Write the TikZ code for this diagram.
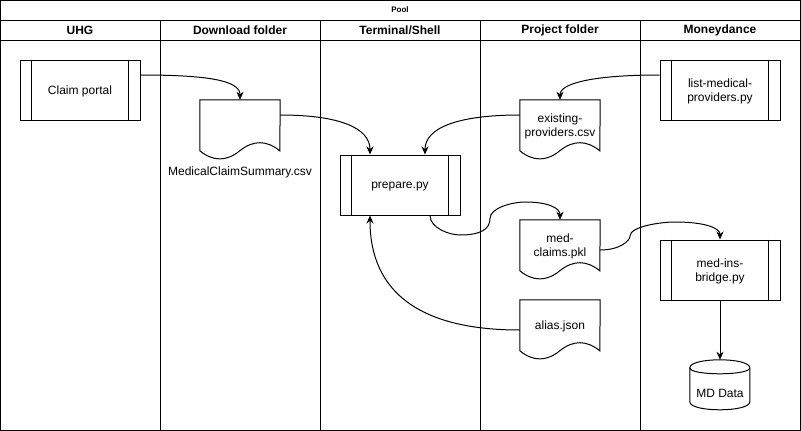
\documentclass[tikz,border=0pt]{standalone}
\usepackage{fontspec}
\setmainfont{Liberation Sans}
\usetikzlibrary{arrows.meta,calc}
\tikzset{
  ln/.style={line width=1pt, draw=black},
  arr/.style={ln, -{Stealth[length=8pt,width=7pt,inset=2.5pt]}},
  proc/.style={ln, rectangle, minimum width=120pt, minimum height=60pt, inner sep=0pt},
  docbox/.style={rectangle, minimum width=80pt, minimum height=60pt, inner sep=0pt},
  txt/.style={font=\fontsize{12}{14.5}\selectfont, align=center, inner sep=0pt, text depth=0pt},
  hdr/.style={font=\fontsize{12}{14.5}\selectfont\bfseries, inner sep=0pt},
}
\newcommand\procinner[1]{%
  \draw[ln] ($(#1.north west)+(12,0)$) -- ($(#1.south west)+(12,0)$);
  \draw[ln] ($(#1.north east)+(-12,0)$) -- ($(#1.south east)+(-12,0)$);}
\newcommand\docpath[1]{%
  \draw[ln, line join=miter] ($(#1.north west)+(0,51)$) -- (#1.north west) -- (#1.north east) -- ($(#1.north west)+(80,51)$)
   .. controls ($(#1.north west)+(66.67,40.2)$) and ($(#1.north west)+(53.33,40.2)$) .. ($(#1.north west)+(40,51)$)
   .. controls ($(#1.north west)+(26.67,61.8)$) and ($(#1.north west)+(13.33,61.8)$) .. ($(#1.north west)+(0,51)$);}
\begin{document}
\begin{tikzpicture}[x=1pt,y=-1pt]
\useasboundingbox (0,0) rectangle (801,431);
% pool frame
\draw[ln] (0.5,0.5) rectangle (800.5,430.5);
\draw[ln] (0.5,20) -- (800.5,20);
\draw[ln] (0.5,40) -- (800.5,40);
\foreach \x in {160,320,480,640} \draw[ln] (\x,20) -- (\x,430.5);
\node[font=\fontsize{8}{9}\selectfont\bfseries, inner sep=0pt] (pool) at (400,10) {Pool};
\node[hdr] (h1) at (80,30) {UHG};
\node[hdr] (h2) at (240,30) {Download folder};
\node[hdr] (h3) at (400,30) {Terminal/Shell};
\node[hdr] (h4) at (560,30) {Project folder};
\node[hdr] (h5) at (720,30) {Moneydance};

% process boxes
\node[proc] (cp) at (80,90) {}; \procinner{cp}
\node[txt] (cpl) at (cp.center) {Claim portal};
\node[proc] (prep) at (400,185) {}; \procinner{prep}
\node[txt] (prepl) at (prep.center) {prepare.py};
\node[proc] (lmp) at (720,90) {}; \procinner{lmp}
\node[txt] (lmpl) at (lmp.center) {list-medical-\\providers.py};
\node[proc] (mib) at (720,270) {}; \procinner{mib}
\node[txt] (mibl) at (mib.center) {med-ins-\\bridge.py};

% documents
\node[docbox] (mcs) at (240,130) {}; \docpath{mcs}
\node[txt] (mcsl) at (240,171) {MedicalClaimSummary.csv};
\node[docbox] (ep) at (560,130) {}; \docpath{ep}
\node[txt] (epl) at ($(ep.center)+(0,-5)$) {existing-\\providers.csv};
\node[docbox] (mc) at (560,250) {}; \docpath{mc}
\node[txt] (mcl) at ($(mc.center)+(0,-5)$) {med-\\claims.pkl};
\node[docbox] (aj) at (560,330) {}; \docpath{aj}
\node[txt] (ajl) at ($(aj.center)+(0,-5)$) {alias.json};

% cylinder
\node[rectangle, minimum width=60pt, minimum height=50pt, inner sep=0pt] (md) at (720,385) {};
\draw[ln] ($(md.north west)+(0,8)$) .. controls ($(md.north west)+(0,-2.67)$) and ($(md.north west)+(60,-2.67)$) .. ($(md.north west)+(60,8)$)
  -- ($(md.north west)+(60,42)$) .. controls ($(md.north west)+(60,52.67)$) and ($(md.north west)+(0,52.67)$) .. ($(md.north west)+(0,42)$) -- cycle;
\draw[ln] ($(md.north west)+(0,8)$) .. controls ($(md.north west)+(0,16)$) and ($(md.north west)+(60,16)$) .. ($(md.north west)+(60,8)$);
\node[txt] (mdl) at ($(md.center)+(0,8)$) {MD Data};

% connectors
\draw[arr] ($(cp.east)+(0,-15)$) .. controls (206.7,75) and (240,80.3) .. (mcs.north);
\draw[arr] ($(mcs.east)+(0,-15)$) .. controls (340,115) and (370,128.3) .. ($(prep.north)+(-30,0)$);
\draw[arr] ($(lmp.west)+(0,-15)$) .. controls (593.3,75) and (560,83.3) .. (ep.north);
\draw[arr] ($(ep.west)+(0,-15)$) .. controls (456.7,115) and (425,128.3) .. ($(prep.north)+(25,0)$);
\draw[arr] ($(prep.south)+(30,0)$) .. controls (430,228.33) and (450,235) .. (460,235)
  .. controls (480,235) and (490,229.5) .. (490,218.5)
  .. controls (490,207.5) and (513.33,202) .. (525,202)
  .. controls (548.33,202) and (560,208) .. (mc.north);
\draw[arr] (mc.east) .. controls (620,250) and (630,240.67) .. (630,236)
  .. controls (630,226.67) and (660,222) .. (675,222)
  .. controls (705,222) and (720,228) .. (mib.north);
\draw[arr] (aj.west) .. controls (420,330) and (370,292.3) .. ($(prep.south)+(-30,0)$);
\draw[arr] (mib.south) -- (md.north);
\end{tikzpicture}
\end{document}
